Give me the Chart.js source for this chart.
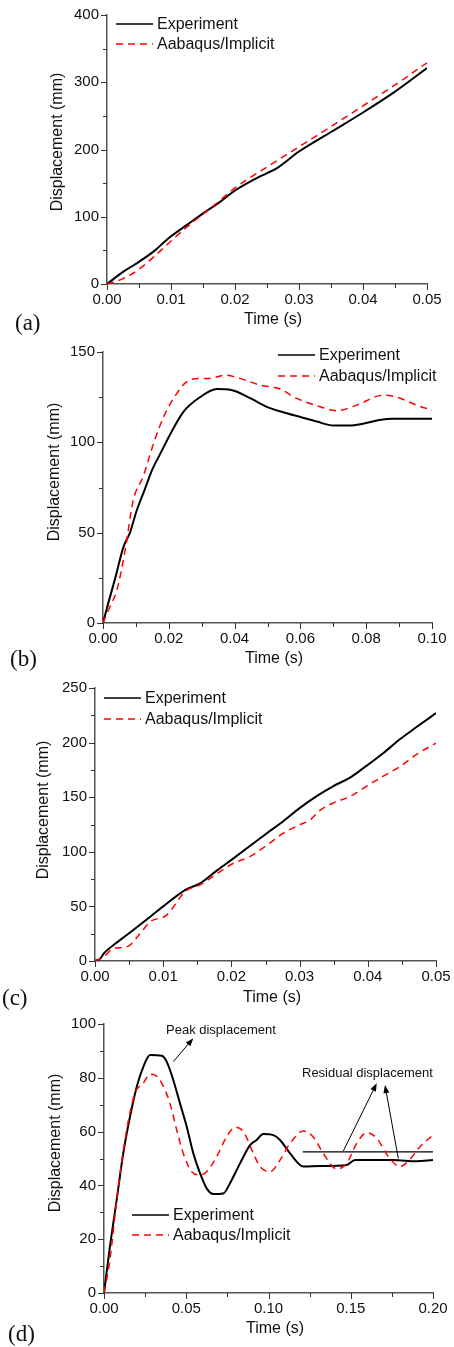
<!DOCTYPE html>
<html lang="en">
<head>
<meta charset="UTF-8">
<title>Displacement vs time</title>
<script src="https://cdn.jsdelivr.net/npm/chart.js"></script>
<style>
  html, body { margin: 0; padding: 0; background: #fff; }
  body { width: 454px; height: 1347px; position: relative; overflow: hidden;
         font-family: "Liberation Sans", Arial, sans-serif; color: #111; }
  .panel { position: absolute; left: 0; width: 454px; }
  .panel canvas { display: block; }
  .txt { position: absolute; white-space: nowrap; font-size: 16px; line-height: 1; transform: translateY(-50%); }
  .xtitle { transform: translate(-50%, -50%); }
  .ytitle { transform: translate(-50%, -50%) rotate(-90deg); }
  .tag { font-family: "Liberation Serif", "Times New Roman", serif; font-size: 23px; }
  .note { font-size: 13px; }
  .leg { position: absolute; display: flex; align-items: center; font-size: 16px; line-height: 1; transform: translateY(-50%); white-space: nowrap; }
  .leg svg { margin-right: 4px; }
</style>
</head>
<body>
  <div class="panel" style="top:0;height:335px"><canvas id="ca" width="454" height="335"></canvas></div>
  <div class="panel" style="top:335px;height:337px"><canvas id="cb" width="454" height="337"></canvas></div>
  <div class="panel" style="top:672px;height:336px"><canvas id="cc" width="454" height="336"></canvas></div>
  <div class="panel" style="top:1008px;height:339px"><canvas id="cd" width="454" height="339"></canvas></div>

  <!-- axis titles -->
  <div class="txt xtitle" style="left:273px;top:319px">Time (s)</div>
  <div class="txt xtitle" style="left:274px;top:658px">Time (s)</div>
  <div class="txt xtitle" style="left:272px;top:997px">Time (s)</div>
  <div class="txt xtitle" style="left:275px;top:1328px">Time (s)</div>
  <div class="txt ytitle" style="left:57px;top:142px">Displacement (mm)</div>
  <div class="txt ytitle" style="left:54px;top:472px">Displacement (mm)</div>
  <div class="txt ytitle" style="left:43px;top:810px">Displacement (mm)</div>
  <div class="txt ytitle" style="left:55px;top:1143px">Displacement (mm)</div>

  <!-- panel tags -->
  <div class="txt tag" style="left:15px;top:322px">(a)</div>
  <div class="txt tag" style="left:10px;top:658px">(b)</div>
  <div class="txt tag" style="left:2px;top:997px">(c)</div>
  <div class="txt tag" style="left:8px;top:1333px">(d)</div>

  <!-- annotations in (d) -->
  <div class="txt note" style="left:166px;top:1029px">Peak displacement</div>
  <div class="txt note" style="left:302px;top:1072px">Residual displacement</div>

  <div id="legends"></div>

<script>
// (a)
const aExpT = [0, 0.0025, 0.005, 0.0075, 0.009, 0.01, 0.0125, 0.015, 0.0175, 0.02, 0.0225, 0.025, 0.0265, 0.03, 0.035, 0.04, 0.045, 0.05];
const aExp  = [0, 18, 33, 50, 63, 71, 88, 105, 121, 139, 153, 165, 172, 197, 226, 255, 286, 321];
const aSimT = [0, 0.0025, 0.005, 0.0075, 0.01, 0.0125, 0.015, 0.0175, 0.02, 0.025, 0.03, 0.035, 0.04, 0.045, 0.05];
const aSim  = [0, 8, 22, 42, 64, 85, 104, 123, 143, 174, 204, 234, 265, 296, 329];

// (b)
const bExpT = [0, 0.0016, 0.0036, 0.0062, 0.0082, 0.0102, 0.0125, 0.015, 0.0175, 0.02, 0.0245, 0.0295, 0.0346, 0.039, 0.0447, 0.05, 0.055, 0.06, 0.065, 0.07, 0.075, 0.079, 0.084, 0.088, 0.1];
const bExp  = [0, 11, 24, 42, 50, 62, 73, 85, 94, 103, 117, 125, 129.5, 129, 124.5, 119.5, 116.5, 114, 111.5, 109.3, 109.3, 110.3, 112.3, 113, 113];
const bSimT = [0, 0.0021, 0.0042, 0.0067, 0.0092, 0.0122, 0.0153, 0.0184, 0.0224, 0.0254, 0.0295, 0.0325, 0.0371, 0.0416, 0.0477, 0.0538, 0.0589, 0.066, 0.071, 0.0771, 0.0852, 0.0893, 0.0953, 0.1];
const bSim  = [0, 9, 18, 40, 68, 81, 99, 114, 127, 133.5, 135.4, 135.4, 137.2, 135.4, 131.7, 129.5, 124.3, 119.7, 117.5, 120.6, 126.1, 125, 120.6, 117.8];

// (c)
const cExpT = [0, 0.0008, 0.0013, 0.003, 0.0047, 0.0081, 0.01, 0.0132, 0.0154, 0.0179, 0.0203, 0.0252, 0.0276, 0.03, 0.0325, 0.0349, 0.0374, 0.039, 0.0422, 0.0447, 0.0471, 0.05];
const cExp  = [0, 2.4, 7, 16, 24, 40.6, 50, 65, 71, 83, 94, 117, 128, 140, 151, 160, 168, 175, 190, 203, 214, 227];
const cSimT = [0, 0.0013, 0.0027, 0.0047, 0.0066, 0.0081, 0.0105, 0.0132, 0.0154, 0.0179, 0.0203, 0.0227, 0.0252, 0.0276, 0.03, 0.0315, 0.033, 0.0349, 0.0374, 0.0398, 0.0422, 0.0447, 0.0471, 0.05];
const cSim  = [0, 4, 11.6, 13, 25, 36, 42, 63.6, 69.7, 80, 89.5, 95.6, 106, 117, 124.7, 129, 138, 144.6, 150.7, 160, 169, 178, 189, 199.6];

// (d)
const dExpT = [0, 0.0036, 0.0077, 0.0117, 0.0158, 0.0199, 0.0239, 0.028, 0.0351, 0.0381, 0.0421, 0.0462, 0.0503, 0.0543, 0.0584, 0.0624, 0.0665, 0.0725, 0.0766, 0.0827, 0.0888, 0.0928, 0.0968, 0.1029, 0.107, 0.1131, 0.1212, 0.1313, 0.1475, 0.1526, 0.1759, 0.19, 0.2];
const dExp  = [0, 17.2, 34.6, 51.9, 65.5, 76.7, 84.1, 88.5, 88.2, 86, 79.2, 70.5, 61.8, 51.9, 44.5, 38.9, 36.8, 37, 40.8, 48.2, 55, 56.9, 59.1, 58.7, 56.9, 51.9, 47, 47.2, 47.6, 49.4, 49.4, 49, 49.4];
const dSimT = [0, 0.0036, 0.0077, 0.0138, 0.0188, 0.0239, 0.028, 0.031, 0.0351, 0.0401, 0.0442, 0.0482, 0.0533, 0.0584, 0.0624, 0.0685, 0.0746, 0.0796, 0.0847, 0.0908, 0.0948, 0.1009, 0.107, 0.1131, 0.1212, 0.1272, 0.1333, 0.1415, 0.1475, 0.1536, 0.1597, 0.1658, 0.1729, 0.1799, 0.185, 0.1921, 0.2];
const dSim  = [0, 12.3, 34.6, 60.6, 74.2, 78, 81.3, 81, 78, 70.5, 60.6, 51.9, 45.1, 43.9, 45.1, 50.7, 58.1, 61.6, 60, 51.9, 47, 45.1, 49.4, 55.6, 60.2, 58, 51.9, 46.1, 48.2, 55.6, 59.6, 57.5, 50.7, 47, 49, 54.4, 58.7];

// residual level line and arrows in (d)
const resT = [0.1208, 0.2];
const resD = [52.5, 52.5];
const arrowFromT = [0.0421, 0.1455, 0.1789];
const arrowFromD = [86, 52.8, 50];
const arrowToT   = [0.0543, 0.1658, 0.1708];
const arrowToD   = [94.7, 78, 77.3];

const seriesNames = ['Experiment', 'Aabaqus/Implicit'];

Chart.defaults.font.family = '"Liberation Sans", Arial, sans-serif';
Chart.defaults.font.size = 15;
Chart.defaults.color = '#111';
Chart.defaults.animation = false;

function pts(xs, ys) {
    return xs.map((x, i) => ({ x: x, y: ys[i] }));
}

function isMajor(v, step) {
    const r = v / step;
    return Math.abs(r - Math.round(r)) < 1e-6;
}

// major / minor tick marks drawn outward from the axes
const tickMarks = {
    id: 'tickMarks',
    afterDraw(chart, args, opts) {
        const ctx = chart.ctx;
        const area = chart.chartArea;
        const xs = chart.scales.x, ys = chart.scales.y;
        ctx.save();
        ctx.strokeStyle = '#333';
        ctx.lineWidth = 1;
        xs.ticks.forEach(t => {
            const p = Math.round(xs.getPixelForValue(t.value)) + 0.5;
            const len = isMajor(t.value, opts.xMajor) ? 6 : 4;
            ctx.beginPath();
            ctx.moveTo(p, area.bottom);
            ctx.lineTo(p, area.bottom + len);
            ctx.stroke();
        });
        ys.ticks.forEach(t => {
            const p = Math.round(ys.getPixelForValue(t.value)) + 0.5;
            const len = isMajor(t.value, opts.yMajor) ? 6 : 4;
            ctx.beginPath();
            ctx.moveTo(area.left, p);
            ctx.lineTo(area.left - len, p);
            ctx.stroke();
        });
        ctx.restore();
    }
};

function drawArrow(ctx, x1, y1, x2, y2) {
    const ang = Math.atan2(y2 - y1, x2 - x1);
    const hl = 8, hw = 3;
    ctx.beginPath();
    ctx.moveTo(x1, y1);
    ctx.lineTo(x2 - Math.cos(ang) * hl * 0.8, y2 - Math.sin(ang) * hl * 0.8);
    ctx.stroke();
    ctx.beginPath();
    ctx.moveTo(x2, y2);
    ctx.lineTo(x2 - hl * Math.cos(ang) + hw * Math.sin(ang), y2 - hl * Math.sin(ang) - hw * Math.cos(ang));
    ctx.lineTo(x2 - hl * Math.cos(ang) - hw * Math.sin(ang), y2 - hl * Math.sin(ang) + hw * Math.cos(ang));
    ctx.closePath();
    ctx.fill();
}

const arrows = {
    id: 'arrows',
    afterDatasetsDraw(chart) {
        const ctx = chart.ctx;
        const xs = chart.scales.x, ys = chart.scales.y;
        ctx.save();
        ctx.strokeStyle = '#000';
        ctx.fillStyle = '#000';
        ctx.lineWidth = 1;
        arrowFromT.forEach((t, i) => {
            drawArrow(ctx,
                xs.getPixelForValue(t), ys.getPixelForValue(arrowFromD[i]),
                xs.getPixelForValue(arrowToT[i]), ys.getPixelForValue(arrowToD[i]));
        });
        ctx.restore();
    }
};

function lineSets(expT, exp, simT, sim) {
    return [
        {
            label: seriesNames[1], data: pts(simT, sim), order: 0,
            borderColor: '#ff0000', borderWidth: 1.5, borderDash: [7, 5],
            pointRadius: 0, fill: false, cubicInterpolationMode: 'monotone'
        },
        {
            label: seriesNames[0], data: pts(expT, exp), order: 1,
            borderColor: '#000', borderWidth: 2,
            pointRadius: 0, fill: false, cubicInterpolationMode: 'monotone'
        }
    ];
}

function makeChart(c) {
    return new Chart(document.getElementById(c.id), {
        type: 'line',
        data: { datasets: c.datasets },
        plugins: [tickMarks].concat(c.plugins || []),
        options: {
            responsive: false,
            layout: { padding: { top: c.padTop, right: c.padRight, left: 0, bottom: 0 } },
            plugins: {
                legend: { display: false },
                tooltip: { enabled: false },
                tickMarks: { xMajor: c.xMajor, yMajor: c.yMajor }
            },
            scales: {
                x: {
                    type: 'linear', min: 0, max: c.xMax,
                    border: { display: true, color: '#555', width: 1.5 },
                    grid: { drawOnChartArea: false, tickLength: 6, tickColor: 'rgba(0,0,0,0)' },
                    ticks: {
                        stepSize: c.xStep, autoSkip: false, maxRotation: 0, minRotation: 0, padding: 1,
                        callback: v => isMajor(v, c.xMajor) ? v.toFixed(2) : ''
                    },
                    afterFit: s => { s.height = c.xHeight; }
                },
                y: {
                    type: 'linear', min: 0, max: c.yMax,
                    border: { display: true, color: '#555', width: 1.5 },
                    grid: { drawOnChartArea: false, tickLength: 6, tickColor: 'rgba(0,0,0,0)' },
                    ticks: {
                        stepSize: c.yStep, autoSkip: false, padding: 2,
                        callback: v => isMajor(v, c.yMajor) ? String(Math.round(v)) : ''
                    },
                    afterFit: s => { s.width = c.yWidth; }
                }
            }
        }
    });
}

makeChart({
    id: 'ca', datasets: lineSets(aExpT, aExp, aSimT, aSim),
    xMax: 0.05, xStep: 0.005, xMajor: 0.01, yMax: 400, yStep: 50, yMajor: 100,
    padTop: 15, padRight: 27, yWidth: 107, xHeight: 51
});
makeChart({
    id: 'cb', datasets: lineSets(bExpT, bExp, bSimT, bSim),
    xMax: 0.1, xStep: 0.01, xMajor: 0.02, yMax: 150, yStep: 25, yMajor: 50,
    padTop: 17, padRight: 22, yWidth: 103, xHeight: 49
});
makeChart({
    id: 'cc', datasets: lineSets(cExpT, cExp, cSimT, cSim),
    xMax: 0.05, xStep: 0.005, xMajor: 0.01, yMax: 250, yStep: 25, yMajor: 50,
    padTop: 16, padRight: 18, yWidth: 95, xHeight: 47
});
const dSets = lineSets(dExpT, dExp, dSimT, dSim);
dSets.push({
    label: 'Residual displacement', data: pts(resT, resD), order: 2,
    borderColor: '#000', borderWidth: 1.2, pointRadius: 0, fill: false
});
makeChart({
    id: 'cd', datasets: dSets,
    xMax: 0.2, xStep: 0.025, xMajor: 0.05, yMax: 100, yStep: 10, yMajor: 20,
    padTop: 16, padRight: 21, yWidth: 104, xHeight: 54, plugins: [arrows]
});

// legends as page text
const legendSpots = [[116, 24, 44], [278, 355, 376], [104, 698, 719], [132, 1215, 1235]];
const legendBox = document.getElementById('legends');
legendSpots.forEach(s => {
    seriesNames.forEach((name, i) => {
        const row = document.createElement('div');
        row.className = 'leg';
        row.style.left = s[0] + 'px';
        row.style.top = s[1 + i] + 'px';
        const dash = i === 1 ? ' stroke-dasharray="7 5"' : '';
        const col = i === 1 ? '#ff0000' : '#000';
        row.innerHTML = '<svg width="37" height="4"><line x1="0" y1="2" x2="37" y2="2" stroke="' + col +
            '" stroke-width="1.5"' + dash + '/></svg>';
        row.appendChild(document.createTextNode(name));
        legendBox.appendChild(row);
    });
});
</script>
</body>
</html>
